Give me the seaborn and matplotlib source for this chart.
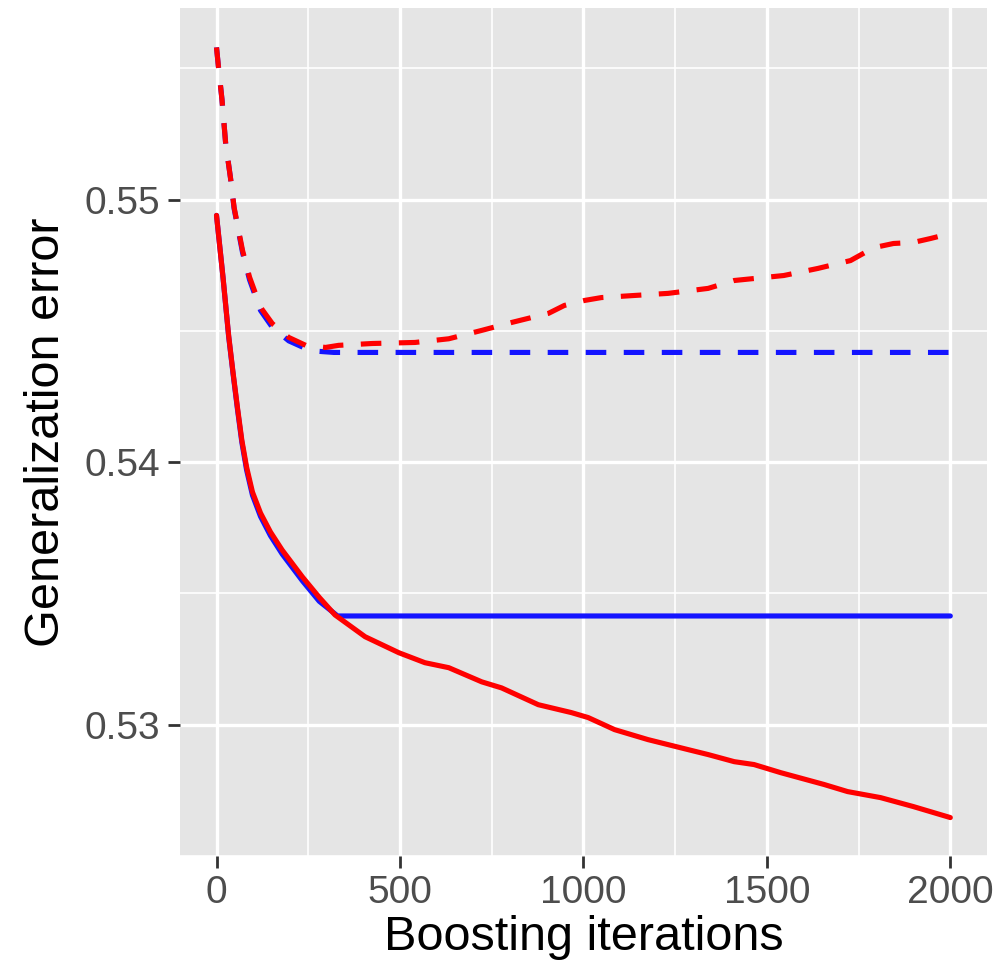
import numpy as np
import pandas as pd
import matplotlib
matplotlib.use("Agg")
import matplotlib.pyplot as plt
import seaborn as sns
from matplotlib.ticker import MultipleLocator

# ---- data ----
red_dash_x = [0, 5, 15, 25, 38, 48, 71, 90, 120, 152, 197, 243, 297, 333, 424, 541, 633, 723,
              804, 905, 948, 1003, 1049, 1139, 1231, 1340, 1411, 1546, 1639, 1728, 1791, 1845,
              1899, 1946, 2000]
red_dash_y = [0.5558, 0.5551, 0.5538, 0.55213, 0.55084, 0.5497, 0.54806, 0.54705, 0.5459,
              0.54528, 0.54475, 0.54445, 0.54437, 0.54445, 0.54452, 0.54456, 0.5447, 0.54502,
              0.54532, 0.54567, 0.54597, 0.54616, 0.54627, 0.54635, 0.54643, 0.54662, 0.54692,
              0.54711, 0.54738, 0.54768, 0.54817, 0.54833, 0.54837, 0.54852, 0.54871]

blue_dash_x = [0, 5, 15, 25, 38, 48, 71, 90, 120, 152, 197, 243, 280, 320, 2000]
blue_dash_y = [0.5558, 0.5551, 0.5538, 0.55213, 0.55084, 0.54966, 0.54798, 0.54695, 0.54578,
               0.54514, 0.54462, 0.54433, 0.54422, 0.54418, 0.54418]

red_solid_x = [0, 18, 33, 45, 57, 69, 82, 98, 120, 147, 179, 234, 280, 323, 405, 497, 568, 633,
               723, 777, 877, 967, 1013, 1085, 1176, 1285, 1340, 1411, 1465, 1538, 1656, 1720,
               1810, 1899, 2000]
red_solid_y = [0.5494, 0.5470, 0.54483, 0.54342, 0.54209, 0.54084, 0.53981, 0.53886, 0.53806,
               0.53734, 0.53665, 0.53563, 0.53485, 0.53418, 0.53335, 0.53274, 0.53236, 0.53217,
               0.53163, 0.5314, 0.53076, 0.53046, 0.53027, 0.52981, 0.52943, 0.52905, 0.52886,
               0.52859, 0.52848, 0.52817, 0.52772, 0.52745, 0.52722, 0.52688, 0.52646]

blue_solid_x = [0, 18, 33, 45, 57, 69, 82, 98, 120, 147, 179, 234, 280, 330, 2000]
blue_solid_y = [0.5494, 0.5470, 0.54480, 0.54338, 0.54203, 0.54076, 0.53970, 0.53874, 0.53793,
                0.53720, 0.53650, 0.53548, 0.53470, 0.53414, 0.53414]

x_ticks = [0, 500, 1000, 1500, 2000]
y_ticks = [0.53, 0.54, 0.55]
y_tick_labels = ["0.53", "0.54", "0.55"]

# ---- style ----
sns.set_theme(style="darkgrid")
plt.rcParams["font.family"] = ["Liberation Sans", "DejaVu Sans"]

fig = plt.figure(figsize=(9.99, 9.80), dpi=100)
ax = fig.add_axes([0.180, 0.1265, 0.808, 0.8653])
ax.set_facecolor("#E5E5E5")

lw = 3.7
dash = (4.0, 3.4)
series = [
    (blue_dash_x, blue_dash_y, "#1414FF", True),
    (blue_solid_x, blue_solid_y, "#1414FF", False),
    (red_dash_x, red_dash_y, "#FF0000", True),
    (red_solid_x, red_solid_y, "#FF0000", False),
]
for xs, ys, col, dashed in series:
    df = pd.DataFrame({"iter": xs, "err": ys})
    sns.lineplot(data=df, x="iter", y="err", ax=ax, color=col, linewidth=lw,
                 estimator=None, sort=False, zorder=3)
    line = ax.lines[-1]
    line.set_solid_joinstyle("round")
    if dashed:
        line.set_dashes(dash)
        line.set_dash_capstyle("butt")

ax.set_xlim(-100, 2100)
ax.set_ylim(0.524995, 0.5573)
ax.set_xticks(x_ticks)
ax.set_xticklabels([str(t) for t in x_ticks])
ax.set_yticks(y_ticks)
ax.set_yticklabels(y_tick_labels)
ax.xaxis.set_minor_locator(MultipleLocator(250))
ax.yaxis.set_minor_locator(MultipleLocator(0.005))

ax.grid(which="major", color="white", linewidth=2.4)
ax.grid(which="minor", color="white", linewidth=1.2)
ax.set_axisbelow(True)
for s in ax.spines.values():
    s.set_visible(False)

ax.tick_params(axis="both", which="major", length=8.5, width=2.0, color="#333333",
               labelsize=28, labelcolor="#4D4D4D", pad=6, bottom=True, left=True)
ax.tick_params(axis="x", which="major", pad=5)
ax.tick_params(axis="both", which="minor", length=0)

ax.set_xlabel("Boosting iterations", fontsize=35, color="black", labelpad=3)
ax.set_ylabel("Generalization error", fontsize=35, color="black", labelpad=11)

fig.savefig("out.png", dpi=100, facecolor="white")
